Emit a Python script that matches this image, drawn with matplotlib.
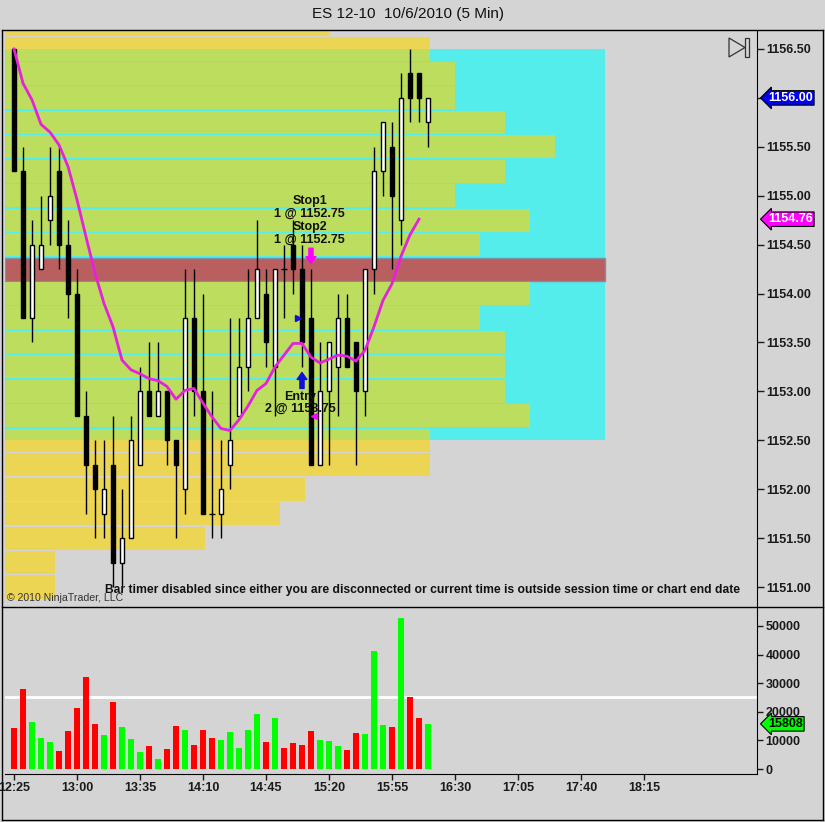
import numpy as np
import matplotlib.pyplot as plt
from matplotlib.patches import Rectangle, Polygon
from matplotlib.lines import Line2D

plt.rcParams['font.family'] = ['Liberation Sans', 'DejaVu Sans']

title = 'ES 12-10  10/6/2010 (5 Min)'

# 5 min bars from 12:25
opens = [1156.50, 1155.25, 1153.75, 1154.25, 1154.75, 1155.25, 1154.50, 1154.00, 1152.75, 1152.25,
         1151.75, 1152.25, 1151.25, 1151.50, 1152.25, 1153.00, 1152.75, 1153.00, 1152.50, 1152.00,
         1153.75, 1153.00, 1151.75, 1151.75, 1152.25, 1152.75, 1153.25, 1153.75, 1154.00, 1153.25,
         1154.25, 1154.50, 1154.25, 1153.75, 1152.25, 1153.00, 1153.25, 1153.75, 1153.50, 1153.00,
         1154.25, 1155.25, 1155.50, 1154.75, 1156.25, 1156.25, 1155.75]
highs = [1156.50, 1155.50, 1154.75, 1155.00, 1155.50, 1155.50, 1154.75, 1154.25, 1153.00, 1152.50,
         1152.50, 1152.75, 1152.00, 1152.75, 1153.25, 1153.50, 1153.50, 1153.00, 1152.50, 1154.25,
         1154.25, 1154.00, 1153.00, 1152.50, 1153.75, 1153.75, 1154.25, 1154.75, 1154.25, 1154.25,
         1154.50, 1154.75, 1154.50, 1154.25, 1153.50, 1153.50, 1154.00, 1154.00, 1153.50, 1154.25,
         1155.50, 1155.75, 1155.75, 1156.25, 1156.50, 1156.25, 1156.00]
lows = [1155.25, 1153.75, 1153.50, 1154.25, 1154.50, 1154.25, 1153.75, 1152.75, 1151.75, 1151.50,
        1151.50, 1151.00, 1151.00, 1151.50, 1152.25, 1152.75, 1152.75, 1152.25, 1151.50, 1151.75,
        1152.75, 1151.75, 1151.50, 1151.50, 1152.00, 1152.75, 1153.00, 1153.75, 1153.25, 1152.75,
        1153.75, 1154.00, 1153.25, 1152.25, 1152.25, 1152.25, 1152.75, 1153.25, 1152.25, 1152.75,
        1154.00, 1155.00, 1154.25, 1154.50, 1155.75, 1155.75, 1155.50]
closes = [1155.25, 1153.75, 1154.50, 1154.50, 1155.00, 1154.50, 1154.00, 1152.75, 1152.25, 1152.00,
          1152.00, 1151.25, 1151.50, 1152.50, 1153.00, 1152.75, 1153.00, 1152.50, 1152.25, 1153.75,
          1153.00, 1151.75, 1151.75, 1152.00, 1152.50, 1153.25, 1153.75, 1154.25, 1153.50, 1154.25,
          1154.25, 1154.25, 1153.50, 1152.25, 1153.00, 1153.50, 1153.75, 1153.25, 1153.00, 1154.25,
          1155.25, 1155.75, 1155.00, 1156.00, 1156.00, 1156.00, 1156.00]
volumes = [14300, 27800, 16300, 10800, 9400, 6200, 13200, 21200, 32000, 15600,
           11800, 23300, 14600, 10400, 5900, 8000, 3500, 6900, 14900, 13500,
           8300, 13500, 10800, 10100, 12800, 7300, 13500, 19100, 9400, 17700,
           7300, 9000, 8300, 13200, 10100, 9700, 8000, 6600, 12500, 12200,
           41300, 15300, 14600, 52800, 25300, 17700, 15808]
# moving average line (magenta)
sma = [1156.50, 1156.15, 1155.98, 1155.73, 1155.65, 1155.52, 1155.30, 1154.96, 1154.58, 1154.21,
       1153.90, 1153.66, 1153.32, 1153.22, 1153.18, 1153.13, 1153.11, 1153.05, 1152.92, 1153.01,
       1153.03, 1152.88, 1152.74, 1152.62, 1152.60, 1152.71, 1152.85, 1153.01, 1153.08, 1153.25,
       1153.37, 1153.49, 1153.49, 1153.35, 1153.29, 1153.33, 1153.37, 1153.36, 1153.31, 1153.42,
       1153.66, 1153.93, 1154.10, 1154.38, 1154.60, 1154.76]

time_ticks = [0, 7, 14, 21, 28, 35, 42, 49, 56, 63, 70]
time_labels = ['12:25', '13:00', '13:35', '14:10', '14:45', '15:20', '15:55',
               '16:30', '17:05', '17:40', '18:15']
price_ticks = [1151.0, 1151.5, 1152.0, 1152.5, 1153.0, 1153.5, 1154.0, 1154.5, 1155.0, 1155.5, 1156.0, 1156.5]
vol_ticks = [0, 10000, 20000, 30000, 40000, 50000]
vol_level = 25300

# price profile
prof_prices = [1156.75, 1156.5, 1156.25, 1156.0, 1155.75, 1155.5, 1155.25, 1155.0, 1154.75, 1154.5,
               1154.25, 1154.0, 1153.75, 1153.5, 1153.25, 1153.0, 1152.75, 1152.5, 1152.25, 1152.0,
               1151.75, 1151.5, 1151.25, 1151.0]
prof_counts = [13, 17, 18, 18, 20, 22, 20, 18, 21, 19, 24, 21, 19, 20, 20, 20, 21, 17, 17, 12, 11, 8, 2, 2]
poc_price = 1154.25
va_low, va_high = 1152.5, 1156.5

entry_bar, entry_price, entry_qty = 32, 1153.75, 2
stop_bar, stop_price, stop_qty = 33, 1152.75, 1

BG = '#D4D4D4'
YEL = '#ECD552'
GRN = '#BCDD5E'
CYN = '#55ECEC'
POCC = '#BA5F5F'
MAG = '#E621DE'

W, H = 825, 822


def P(x, y):
    return (x / W, 1 - y / H)


fig = plt.figure(figsize=(W / 100, H / 100), dpi=100, facecolor=BG)
ax = fig.add_axes([5 / W, 1 - 606 / H, 752 / W, 575 / H], facecolor=BG)
axv = fig.add_axes([5 / W, 1 - 774 / H, 752 / W, 166 / H], facecolor=BG)

xmin, xmax = -1.0, 82.56
ax.set_xlim(xmin, xmax)
ax.set_ylim(1150.806, 1156.684)
axv.set_xlim(xmin, xmax)
axv.set_ylim(-1700, 56250)

# profile
tick = 0.25
gap = 0.007
unit = 25 / 9.0
poc_w = prof_counts[prof_prices.index(poc_price)] * unit
ax.add_patch(Rectangle((xmin, va_low), poc_w, va_high - va_low, facecolor=CYN, edgecolor='none', zorder=1))
for p, c in zip(prof_prices, prof_counts):
    lo, hi = p - tick / 2, p + tick / 2
    w = c * unit
    if p == poc_price:
        ax.barh(p, w, height=tick - 2 * gap, left=xmin, color=POCC, edgecolor='#8090A0', lw=1, zorder=2)
        continue
    segs = []
    a, b = max(lo, va_low), min(hi, va_high)
    if b > a:
        segs.append((a, b, GRN))
    if lo < va_low:
        segs.append((lo, min(hi, va_low), YEL))
    if hi > va_high:
        segs.append((max(lo, va_high), hi, YEL))
    for s0, s1, col in segs:
        s0 = s0 + gap if s0 == lo else s0
        s1 = s1 - gap if s1 == hi else s1
        ax.barh((s0 + s1) / 2, w, height=s1 - s0, left=xmin, color=col, lw=0, zorder=2)

# candles
o = np.array(opens)
h = np.array(highs)
l = np.array(lows)
c = np.array(closes)
x = np.arange(len(o))
ax.vlines(x, l, h, color='black', lw=1, zorder=4)
doji = o == c
up = c > o
bm = ~doji
ax.bar(x[bm], np.abs(c - o)[bm], bottom=np.minimum(o, c)[bm], width=0.55,
       color=np.where(up[bm], 'white', 'black'), edgecolor='black', lw=1, zorder=5)
ax.hlines(c[doji], x[doji] - 0.35, x[doji] + 0.35, color='black', lw=1, zorder=5)

ax.plot(np.arange(len(sma)), sma, color=MAG, lw=2, zorder=6)

# trade markers
ax.annotate('', xy=(stop_bar, highs[stop_bar]), xytext=(0, 15), textcoords='offset points',
            arrowprops=dict(arrowstyle='simple,head_length=0.5,head_width=0.7,tail_width=0.3',
                            color='#FF00FF', shrinkA=0, shrinkB=4), zorder=7)
ax.annotate('Stop1\n%d @ %.2f\nStop2\n%d @ %.2f' % (stop_qty, stop_price, stop_qty, stop_price),
            xy=(stop_bar, highs[stop_bar]), xytext=(-1, 17), textcoords='offset points',
            ha='center', va='bottom', fontsize=9, fontweight='bold', color='#111111',
            linespacing=1.1, zorder=8)
ax.annotate('', xy=(entry_bar, lows[entry_bar]), xytext=(0, -15.5), textcoords='offset points',
            arrowprops=dict(arrowstyle='simple,head_length=0.5,head_width=0.7,tail_width=0.3',
                            color='#1010D8', shrinkA=0, shrinkB=4), zorder=7)
ax.annotate('Entry\n%d @ %.2f' % (entry_qty, entry_price),
            xy=(entry_bar, lows[entry_bar]), xytext=(-1, -17), textcoords='offset points',
            ha='center', va='top', fontsize=9, fontweight='bold', color='#111111',
            linespacing=1.05, zorder=8)
ax.plot(entry_bar - 0.4, entry_price, marker='>', color='#1010D8', ms=5, zorder=7)
ax.plot(stop_bar + 0.35, stop_price, marker='<', color='#FF00FF', ms=5, zorder=7)

# price axis
ax.yaxis.tick_right()
ax.set_yticks(price_ticks, labels=['%.2f' % v for v in price_ticks], fontweight='bold', fontsize=9)
ax.tick_params(axis='y', direction='out', length=5, width=1, pad=2, colors='#1A1A1A')
ax.set_xticks([])
for s in ['top', 'left', 'bottom']:
    ax.spines[s].set_visible(False)


def tag(axis, val, text, fc, tc):
    axis.annotate(text, xy=(1, val), xycoords=('axes fraction', 'data'), xytext=(8, 0),
                  textcoords='offset points', ha='left', va='center', fontsize=9,
                  fontweight='bold', color=tc, zorder=10, annotation_clip=False,
                  bbox=dict(boxstyle='larrow,pad=0.1', fc=fc, ec='black', lw=0.8))


tag(ax, closes[-1], '%.2f' % closes[-1], '#0000EE', 'white')
tag(ax, sma[-1], '%.2f' % sma[-1], '#FF00FF', 'white')

# volume
vcol = np.where(c > o, '#00FF00', '#FF0000')
axv.bar(x, volumes, width=0.74, color=vcol, zorder=3)
axv.axhline(vol_level, color='white', lw=2, zorder=2)
axv.yaxis.tick_right()
axv.set_yticks(vol_ticks, labels=[str(v) for v in vol_ticks], fontweight='bold', fontsize=9)
axv.set_xticks(time_ticks, labels=time_labels, fontweight='bold', fontsize=9)
axv.tick_params(axis='both', direction='out', length=4, width=1, pad=2, colors='#1A1A1A')
for s in ['top', 'left']:
    axv.spines[s].set_visible(False)
tag(axv, volumes[-1], str(volumes[-1]), '#00FF00', 'black')

# frame and texts
for xs, ys in [((2, 823), (30, 30)), ((2, 823), (607, 607)), ((2, 823), (820, 820)),
               ((2, 2), (30, 820)), ((823, 823), (30, 820))]:
    (x0, y0), (x1, y1) = P(xs[0], ys[0]), P(xs[1], ys[1])
    fig.add_artist(Line2D([x0, x1], [y0, y1], transform=fig.transFigure, color='black', lw=1))

fig.add_artist(Polygon([P(729, 38), P(729, 57), P(745, 47.5)], closed=True, fill=False,
                       ec='#333333', lw=0.9, transform=fig.transFigure))
fig.add_artist(Rectangle(P(745, 57), 4 / W, 19 / H, fill=False, ec='#333333', lw=0.9,
                         transform=fig.transFigure))

fig.text(*P(408, 14), title, ha='center', va='center', fontsize=11,
         family=['Liberation Sans Narrow', 'Liberation Sans'], color='#111111')
fig.text(*P(105, 590), 'Bar timer disabled since either you are disconnected or current time is '
         'outside session time or chart end date', ha='left', va='center', fontsize=8.7,
         fontweight='bold', color='#111111', zorder=9)
fig.text(*P(7, 598), '\u00a9 2010 NinjaTrader, LLC', ha='left', va='center', fontsize=7.6,
         color='#333333')

fig.savefig('out.png', dpi=100, facecolor=BG)
